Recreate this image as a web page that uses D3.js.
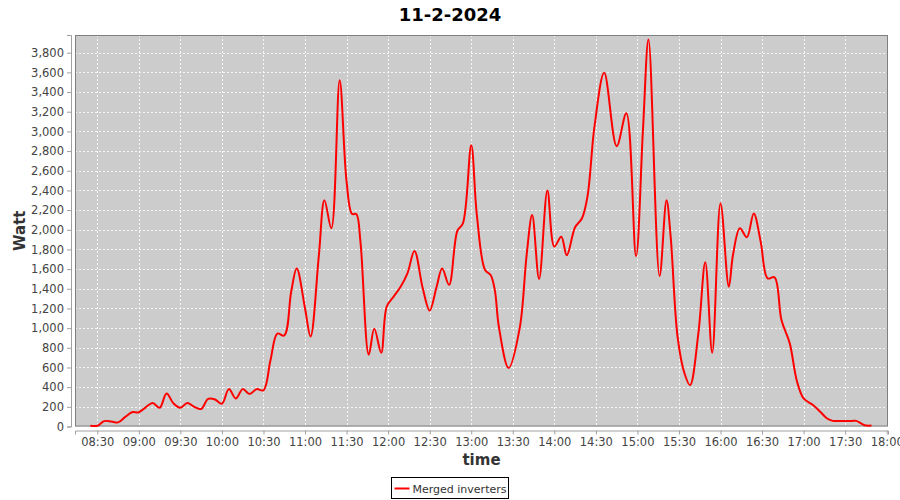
<!DOCTYPE html>
<html>
<head>
<meta charset="utf-8">
<script src="https://cdn.jsdelivr.net/npm/d3@7"></script>
<style>
  body { margin: 0; background: #fff; }
  svg { display: block; font-family: "DejaVu Sans", sans-serif; }
</style>
</head>
<body>
<svg id="chart" width="900" height="500"></svg>
<script>
// readings (time of day, watt)
var times = ["08:25","08:30","08:35","08:40","08:45","08:50","08:55","09:00","09:05","09:10",
  "09:15","09:20","09:25","09:30","09:35","09:40","09:45","09:50","09:55","10:00",
  "10:05","10:10","10:15","10:20","10:25","10:30","10:35","10:40","10:45","10:50",
  "10:54","11:00","11:04","11:10","11:14","11:19","11:25","11:30","11:34","11:37",
  "11:40","11:46","11:50","11:55","11:59","12:04","12:09","12:14","12:19","12:25",
  "12:30","12:35","12:39","12:44","12:50","12:54","13:00","13:04","13:10","13:14",
  "13:17","13:20","13:27","13:35","13:40","13:44","13:49","13:55","14:00","14:05",
  "14:09","14:15","14:20","14:24","14:29","14:36","14:45","14:52","14:59","15:04",
  "15:08","15:16","15:21","15:24","15:29","15:34","15:38","15:44","15:49","15:54",
  "16:00","16:06","16:09","16:14","16:19","16:24","16:29","16:34","16:39","16:44",
  "16:50","16:55","17:00","17:07","17:12","17:17","17:21","17:25","17:30","17:35",
  "17:38","17:44","17:49"];
var watts = [8,8,55,52,42,95,145,145,195,240,
  190,335,235,190,240,200,178,280,275,232,
  380,285,380,330,380,368,670,945,925,1370,
  1605,1200,915,1743,2300,2015,3520,2490,2160,2160,
  1880,730,995,750,1220,1320,1420,1560,1785,1405,
  1178,1420,1605,1440,1990,2065,2860,2160,1590,1540,
  1390,1010,595,1000,1743,2150,1500,2400,1830,1930,
  1740,2025,2117,2344,3050,3595,2850,3185,1730,3016,
  3935,1530,2300,1930,912,540,420,946,1670,750,
  2270,1420,1744,2015,1924,2165,1879,1506,1516,1082,
  845,471,285,217,150,81,57,55,55,57,
  57,13,10];
var yTicks = d3.range(0, 3801, 200);
var seriesName = "Merged inverters";
var chartTitle = "11-2-2024";

var day = function(h, m, s) { return new Date(2024, 1, 11, h, m, s || 0); };
var parse = function(t) { var p = t.split(":"); return day(+p[0], +p[1]); };
var data = times.map(function(t, i) { return { date: parse(t), value: watts[i] }; });

var svg = d3.select("#chart");
var plotL = 75, plotR = 888, plotT = 35, plotB = 426.5;

var xScale = d3.scaleTime()
  .domain([day(8, 13, 54), day(18, 0, 56)])
  .range([plotL, plotR]);
var yScale = d3.scaleLinear()
  .domain([0, 3980])
  .range([plotB, plotT]);

//Plot background
svg.append("rect")
  .attr("x", plotL).attr("y", plotT)
  .attr("width", plotR - plotL).attr("height", plotB - plotT)
  .attr("fill", "#cccccc");

//Gridlines
var xTicks = xScale.ticks(d3.timeMinute.every(30));
svg.append("g").selectAll("line").data(xTicks).enter().append("line")
  .attr("x1", function(d) { return Math.round(xScale(d)) + 0.5; })
  .attr("x2", function(d) { return Math.round(xScale(d)) + 0.5; })
  .attr("y1", plotT).attr("y2", plotB)
  .attr("stroke", "#fff").attr("stroke-width", 0.8).attr("stroke-dasharray", "2,2");
svg.append("g").selectAll("line").data(yTicks.slice(1)).enter().append("line")
  .attr("y1", function(d) { return Math.round(yScale(d)) + 0.5; })
  .attr("y2", function(d) { return Math.round(yScale(d)) + 0.5; })
  .attr("x1", plotL).attr("x2", plotR)
  .attr("stroke", "#fff").attr("stroke-width", 0.8).attr("stroke-dasharray", "2,2");

//Plot outline
svg.append("rect")
  .attr("x", plotL + 0.5).attr("y", plotT + 0.5)
  .attr("width", plotR - plotL - 1).attr("height", plotB - plotT - 1)
  .attr("fill", "none").attr("stroke", "#808080");

//Axes
var xAxis = d3.axisBottom(xScale)
  .tickValues(xTicks)
  .tickFormat(d3.timeFormat("%H:%M"))
  .tickSize(4).tickPadding(3);
var yAxis = d3.axisLeft(yScale)
  .tickValues(yTicks)
  .tickFormat(d3.format(","))
  .tickSize(4).tickPadding(3);

var gx = svg.append("g").attr("transform", "translate(0," + (plotB + 4) + ")").call(xAxis);
var gy = svg.append("g").attr("transform", "translate(" + (plotL - 4) + ",0)").call(yAxis);
[gx, gy].forEach(function(g) {
  g.select(".domain").attr("stroke", "#a0a0a0");
  g.selectAll(".tick line").attr("stroke", "#a0a0a0");
  g.selectAll(".tick text")
    .attr("fill", "#444")
    .style("font-size", "11.5px")
    .style("font-family", "DejaVu Sans, sans-serif");
});

//Line
var line = d3.line()
  .x(function(d) { return xScale(d.date); })
  .y(function(d) { return yScale(d.value); })
  .curve(d3.curveCatmullRom.alpha(0.5));

svg.append("path")
  .datum(data)
  .attr("d", line)
  .attr("fill", "none")
  .attr("stroke", "#ff0000")
  .attr("stroke-width", 2);

//Title + axis labels
svg.append("text")
  .attr("x", 450).attr("y", 21)
  .attr("text-anchor", "middle")
  .style("font-size", "18px").style("font-weight", "bold")
  .text(chartTitle);

svg.append("text")
  .attr("x", (plotL + plotR) / 2).attr("y", 465)
  .attr("text-anchor", "middle")
  .attr("fill", "#333")
  .style("font-size", "15px").style("font-weight", "bold")
  .text("time");

svg.append("text")
  .attr("transform", "translate(25," + ((plotT + plotB) / 2) + ") rotate(-90)")
  .attr("text-anchor", "middle")
  .attr("fill", "#333")
  .style("font-size", "15px").style("font-weight", "bold")
  .text("Watt");

//Legend
var legend = svg.append("g").attr("transform", "translate(391.5,477.5)");
legend.append("rect")
  .attr("width", 117).attr("height", 21)
  .attr("fill", "#fff").attr("stroke", "#000");
legend.append("line")
  .attr("x1", 3).attr("x2", 18).attr("y1", 11).attr("y2", 11)
  .attr("stroke", "#ff0000").attr("stroke-width", 2);
legend.append("text")
  .attr("x", 21).attr("y", 15)
  .attr("fill", "#333")
  .style("font-size", "11px")
  .text(seriesName);
</script>
</body>
</html>
